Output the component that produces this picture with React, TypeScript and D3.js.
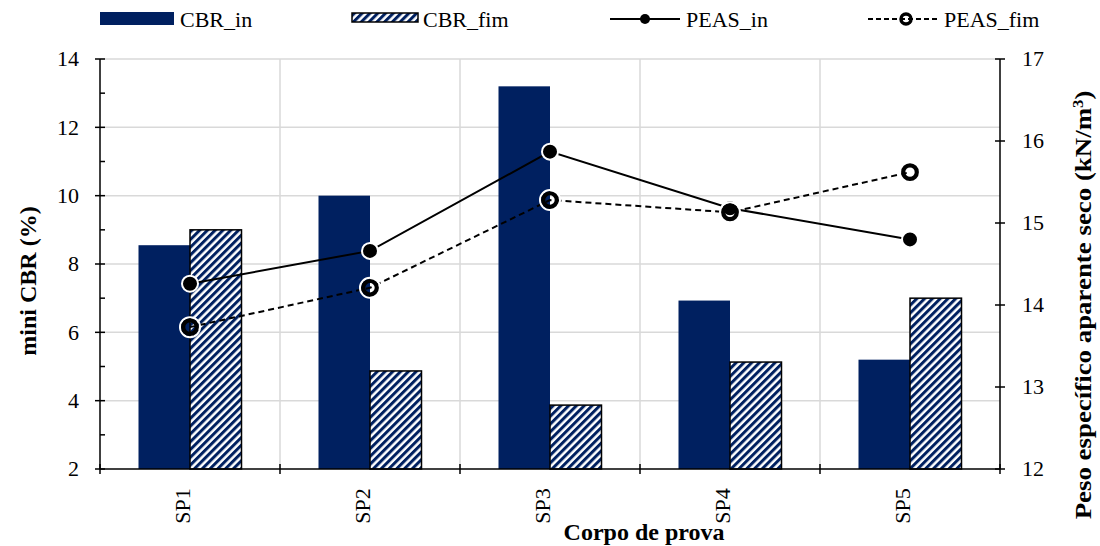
import * as d3 from "d3";
import { useEffect, useRef } from "react";

const categories = ["SP1", "SP2", "SP3", "SP4", "SP5"];
const cbrIn = [8.55, 10.0, 13.2, 6.93, 5.2];
const cbrFim = [9.0, 4.87, 3.87, 5.13, 7.0];
const peasIn = [14.26, 14.66, 15.87, 15.18, 14.8];
const peasFim = [13.73, 14.21, 15.28, 15.13, 15.62];
const leftTicks = [2, 4, 6, 8, 10, 12, 14];
const leftMinor = [3, 5, 7, 9, 11, 13];
const rightTicks = [12, 13, 14, 15, 16, 17];

const NAVY = "#002060";
const FONT = "'Liberation Serif', 'Times New Roman', serif";

const App = () => {
  const ref: any = useRef();

  useEffect(() => {
    const svg = d3.select(ref.current);
    svg.selectAll("*").remove();

    const left = 100, right = 1000, top = 59, bottom = 469;

    const x = d3.scaleBand().domain(categories).range([left, right]).paddingInner(0).paddingOuter(0);
    const y = d3.scaleLinear().domain([2, 14]).range([bottom, top]);
    const y2 = d3.scaleLinear().domain([12, 17]).range([bottom, top]);
    const barW = 51.5;

    // hatch pattern
    const defs = svg.append("defs");
    const pat = defs.append("pattern")
      .attr("id", "hatch")
      .attr("patternUnits", "userSpaceOnUse")
      .attr("width", 5.5)
      .attr("height", 5.5)
      .attr("patternTransform", "rotate(45)");
    pat.append("rect").attr("width", 5.5).attr("height", 5.5).attr("fill", "#fff");
    pat.append("rect").attr("width", 3).attr("height", 5.5).attr("fill", NAVY);

    // grid
    svg.append("g").selectAll("line").data(leftTicks.slice(1)).join("line")
      .attr("x1", left).attr("x2", right)
      .attr("y1", d => y(d)).attr("y2", d => y(d))
      .attr("stroke", "#d9d9d9").attr("stroke-width", 1.5);
    const bounds = categories.slice(1).map(c => x(c) as number);
    svg.append("g").selectAll("line").data(bounds).join("line")
      .attr("x1", d => d).attr("x2", d => d)
      .attr("y1", top).attr("y2", bottom)
      .attr("stroke", "#d9d9d9").attr("stroke-width", 1.5);

    // bars
    const center = (c: string) => (x(c) as number) + x.bandwidth() / 2;
    svg.append("g").selectAll("rect").data(categories).join("rect")
      .attr("x", d => center(d) - barW)
      .attr("y", (d, i) => y(cbrIn[i]))
      .attr("width", barW)
      .attr("height", (d, i) => bottom - y(cbrIn[i]))
      .attr("fill", NAVY);
    svg.append("g").selectAll("rect").data(categories).join("rect")
      .attr("x", d => center(d))
      .attr("y", (d, i) => y(cbrFim[i]))
      .attr("width", barW)
      .attr("height", (d, i) => bottom - y(cbrFim[i]))
      .attr("fill", "url(#hatch)")
      .attr("stroke", "#000")
      .attr("stroke-width", 1.5);

    // axes
    const ax = svg.append("g").attr("stroke", "#000").attr("stroke-width", 1.5);
    ax.append("line").attr("x1", left).attr("x2", left).attr("y1", top).attr("y2", bottom);
    ax.append("line").attr("x1", right).attr("x2", right).attr("y1", top).attr("y2", bottom);
    ax.append("line").attr("x1", left).attr("x2", right).attr("y1", bottom).attr("y2", bottom);
    ax.selectAll(".lt").data(leftTicks).join("line")
      .attr("x1", left - 5).attr("x2", left + 5)
      .attr("y1", d => y(d)).attr("y2", d => y(d));
    ax.selectAll(".lm").data(leftMinor).join("line")
      .attr("x1", left).attr("x2", left + 5)
      .attr("y1", d => y(d)).attr("y2", d => y(d));
    ax.selectAll(".rt").data(rightTicks).join("line")
      .attr("x1", right - 5).attr("x2", right + 5)
      .attr("y1", d => y2(d)).attr("y2", d => y2(d));
    const xb = [left, ...bounds, right];
    ax.selectAll(".xt").data(xb).join("line")
      .attr("x1", d => d).attr("x2", d => d)
      .attr("y1", bottom - 5).attr("y2", bottom + 5);

    const txt = svg.append("g").attr("font-family", FONT).attr("font-size", 22).attr("fill", "#000");
    txt.selectAll(".ll").data(leftTicks).join("text")
      .attr("x", 79).attr("y", d => y(d)).attr("dy", "0.34em")
      .attr("text-anchor", "end").text(d => d);
    txt.selectAll(".rl").data(rightTicks).join("text")
      .attr("x", 1022).attr("y", d => y2(d)).attr("dy", "0.34em")
      .attr("text-anchor", "start").text(d => d);
    txt.selectAll(".xl").data(categories).join("text")
      .attr("transform", d => `translate(${center(d)},506) rotate(-90)`)
      .attr("text-anchor", "middle").text(d => d);

    // titles
    const tt = svg.append("g").attr("font-family", FONT).attr("font-size", 24).attr("font-weight", "bold");
    tt.append("text").attr("transform", "translate(36,281) rotate(-90)")
      .attr("text-anchor", "middle").text("mini CBR (%)");
    const rt = tt.append("text").attr("transform", "translate(1091,305) rotate(-90) scale(1.12,1)")
      .attr("text-anchor", "middle");
    rt.append("tspan").text("Peso específico aparente seco (kN/m");
    rt.append("tspan").attr("font-size", 15).attr("baseline-shift", "super").text("3");
    rt.append("tspan").text(")");
    tt.append("text").attr("x", 644).attr("y", 540).attr("text-anchor", "middle").text("Corpo de prova");

    // lines
    const line = d3.line<number>().x((d, i) => center(categories[i])).y(d => y2(d));
    svg.append("path").attr("d", line(peasIn)).attr("fill", "none").attr("stroke", "#000").attr("stroke-width", 2);
    svg.append("path").attr("d", line(peasFim)).attr("fill", "none").attr("stroke", "#000")
      .attr("stroke-width", 2).attr("stroke-dasharray", "6,4");
    svg.append("g").selectAll("circle").data(peasIn).join("circle")
      .attr("cx", (d, i) => center(categories[i])).attr("cy", d => y2(d)).attr("r", 8)
      .attr("fill", "#000").attr("stroke", "#fff").attr("stroke-width", 2);
    const fimG = svg.append("g").attr("fill", "none");
    fimG.selectAll(".o").data(peasFim).join("circle")
      .attr("cx", (d, i) => center(categories[i])).attr("cy", d => y2(d)).attr("r", 10)
      .attr("stroke", "#fff").attr("stroke-width", 2);
    fimG.selectAll(".i").data(peasFim).join("circle")
      .attr("cx", (d, i) => center(categories[i])).attr("cy", d => y2(d)).attr("r", 6.8)
      .attr("stroke", "#000").attr("stroke-width", 4.2);

    // legend
    const lg = svg.append("g").attr("font-family", FONT).attr("font-size", 22);
    lg.append("rect").attr("x", 100).attr("y", 12).attr("width", 74).attr("height", 13).attr("fill", NAVY);
    lg.append("text").attr("x", 180).attr("y", 27).text("CBR_in");
    lg.append("rect").attr("x", 352).attr("y", 13).attr("width", 66).attr("height", 9)
      .attr("fill", "url(#hatch)").attr("stroke", "#000").attr("stroke-width", 1.5);
    lg.append("text").attr("x", 423).attr("y", 27).text("CBR_fim");
    lg.append("line").attr("x1", 610).attr("x2", 680).attr("y1", 19).attr("y2", 19)
      .attr("stroke", "#000").attr("stroke-width", 2);
    lg.append("circle").attr("cx", 645).attr("cy", 19).attr("r", 5).attr("fill", "#000");
    lg.append("text").attr("x", 686).attr("y", 27).text("PEAS_in");
    lg.append("line").attr("x1", 868).attr("x2", 940).attr("y1", 19).attr("y2", 19)
      .attr("stroke", "#000").attr("stroke-width", 2).attr("stroke-dasharray", "5,3");
    lg.append("circle").attr("cx", 906).attr("cy", 19).attr("r", 5)
      .attr("fill", "none").attr("stroke", "#000").attr("stroke-width", 3.5);
    lg.append("text").attr("x", 944).attr("y", 27).text("PEAS_fim");
  }, []);

  return <svg ref={ref} width={1100} height={546} style={{ display: "block", position: "absolute", left: 0, top: 0, background: "#fff" }} />;
};

export default App;
